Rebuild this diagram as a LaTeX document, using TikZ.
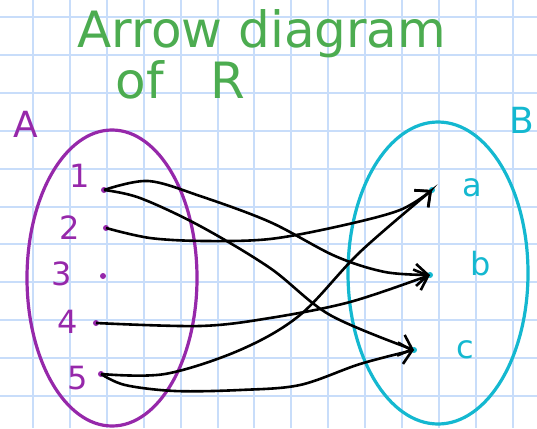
\documentclass[tikz,border=0pt]{standalone}
\usepackage{fontspec}
\setmainfont{DejaVu Sans}
\usetikzlibrary{arrows.meta}
\definecolor{gridc}{RGB}{200,221,250}
\definecolor{purp}{RGB}{150,40,170}
\definecolor{cyn}{RGB}{20,184,208}
\definecolor{grn}{RGB}{76,172,80}
\begin{document}
\begin{tikzpicture}[x=1pt,y=-1pt,
  gridline/.style={draw=gridc,line width=2pt},
  setA/.style={draw=purp,line width=3.2pt},
  setB/.style={draw=cyn,line width=3.2pt},
  ttl/.style={text=grn,font=\fontsize{50}{50}\selectfont},
  labA/.style={text=purp,font=\fontsize{32}{32}\selectfont},
  labB/.style={text=cyn,font=\fontsize{32}{32}\selectfont},
  dotA/.style={circle,fill=purp,inner sep=0pt,minimum size=6pt},
  dotB/.style={circle,fill=cyn,inner sep=0pt,minimum size=6pt},
  arr/.style={line width=2.6pt,black,-{Straight Barb[length=12pt,width=22pt,line width=2.6pt]}}]
\useasboundingbox (0,0) rectangle (537,428);
\fill[white] (0,0) rectangle (537,428);
% grid
\foreach \i in {0,...,13} \draw[gridline] (33+36.9*\i,0) -- (33+36.9*\i,428);
\foreach \j in {0,...,10} \draw[gridline] (0,17+37.9*\j) -- (537,17+37.9*\j);
% title
\node[ttl] (t1) at (262,34) {Arrow diagram};
\node[ttl] (t2) at (140,80) {of};
\node[ttl] (t3) at (228,80) {R};
% sets
\draw[setA] (112,278) ellipse [x radius=85, y radius=148];
\draw[setB] (438,273) ellipse [x radius=90, y radius=151];
\node[labA,font=\fontsize{36}{36}\selectfont] (A) at (26,124) {A};
\node[labB,font=\fontsize{36}{36}\selectfont] (B) at (522,120) {B};
% elements of A
\node[dotA] (p1) at (104,190) {};
\node[dotA] (p2) at (106,228) {};
\node[dotA] (p3) at (103,276) {};
\node[dotA] (p4) at (96,323) {};
\node[dotA] (p5) at (101,374) {};
\node[labA] (l1) at (80,176) {1};
\node[labA] (l2) at (70,228) {2};
\node[labA] (l3) at (62,274) {3};
\node[labA] (l4) at (68,322) {4};
\node[labA] (l5) at (78,378) {5};
% elements of B
\node[dotB] (qa) at (432,190) {};
\node[dotB] (qb) at (430,275) {};
\node[dotB] (qc) at (414,350) {};
\node[labB] (la) at (472,188) {a};
\node[labB] (lb) at (481,264) {b};
\node[labB] (lc) at (465,350) {c};
% arrows
\draw[arr] plot[smooth,tension=0.55] coordinates {(p1) (148,181) (200,196) (270,222) (335,256) (385,272) (qb)};
\draw[arr] plot[smooth,tension=0.55] coordinates {(p1) (140,198) (200,226) (270,268) (330,315) (qc)};
\draw[arr] plot[smooth,tension=0.55] coordinates {(p2) (150,238) (205,241) (270,239) (340,226) (400,210) (qa)};
\draw[arr] plot[smooth,tension=0.55] coordinates {(p4) (200,326) (270,318) (350,302) (qb)};
\draw[arr] plot[smooth,tension=0.55] coordinates {(p5) (165,374) (240,350) (300,315) (360,252) (qa)};
\draw[arr] plot[smooth,tension=0.55] coordinates {(p5) (125,385) (175,391) (240,390) (300,385) (360,364) (qc)};
\end{tikzpicture}
\end{document}
